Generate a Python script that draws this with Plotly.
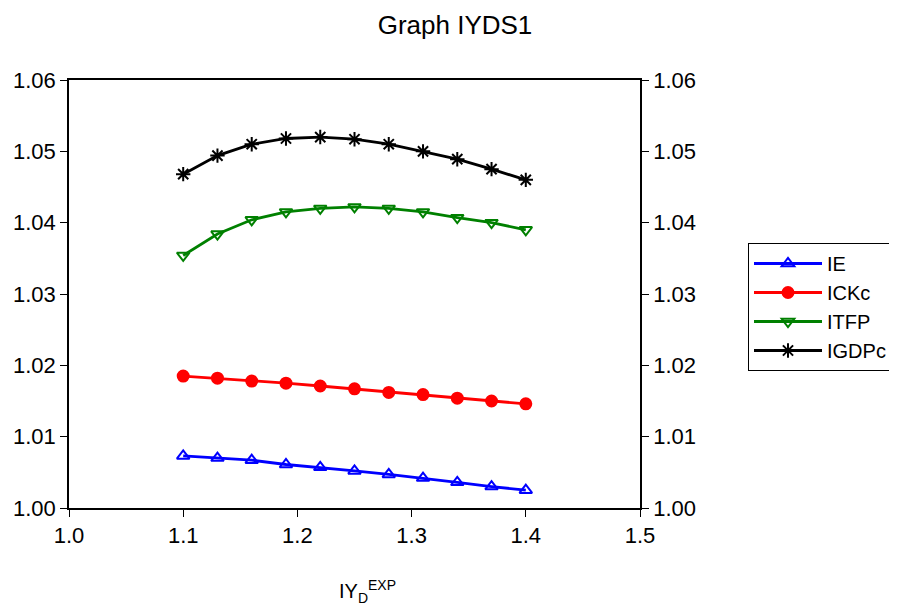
import plotly.graph_objects as go

x_vals = [1.10, 1.13, 1.16, 1.19, 1.22, 1.25, 1.28, 1.31, 1.34, 1.37, 1.40]
IE = [1.0073, 1.0070, 1.0067, 1.0061, 1.0057, 1.0052, 1.0047, 1.0042, 1.0036, 1.0030, 1.0025]
ICKc = [1.0185, 1.0182, 1.0178, 1.0175, 1.0171, 1.0167, 1.0162, 1.0159, 1.0154, 1.0150, 1.0146]
ITFP = [1.0354, 1.0384, 1.0404, 1.0415, 1.0420, 1.0422, 1.0420, 1.0415, 1.0407, 1.0400, 1.0390]
IGDPc = [1.0468, 1.0494, 1.0510, 1.0518, 1.0520, 1.0517, 1.0510, 1.0500, 1.0489, 1.0475, 1.0460]

y_ticks = [1.00, 1.01, 1.02, 1.03, 1.04, 1.05, 1.06]
y_ticklabels = ["1.00", "1.01", "1.02", "1.03", "1.04", "1.05", "1.06"]
x_ticks = [1.0, 1.1, 1.2, 1.3, 1.4, 1.5]
x_ticklabels = ["1.0", "1.1", "1.2", "1.3", "1.4", "1.5"]

FONT = "Liberation Sans, Arial, sans-serif"

# the page body has an 8px default margin; layout offsets compensate for it
W, H = 897, 597

fig = go.Figure()
series = [
    ("IE", IE, "#0000FF", "triangle-up-open", 11),
    ("ICKc", ICKc, "#FF0000", "circle", 11),
    ("ITFP", ITFP, "#008000", "triangle-down-open", 11),
    ("IGDPc", IGDPc, "#000000", "asterisk-open", 12),
]
for name, ys, color, sym, sz in series:
    fig.add_trace(go.Scatter(
        x=x_vals, y=ys, name=name, mode="lines+markers",
        line=dict(color=color, width=2.8),
        marker=dict(symbol=sym, size=sz, color=color, line=dict(color=color, width=2)),
    ))

# invisible trace to anchor right-hand axis
fig.add_trace(go.Scatter(x=x_vals, y=IGDPc, yaxis="y2", showlegend=False,
                         opacity=0, hoverinfo="skip", mode="lines"))

axis_common = dict(
    showgrid=False, zeroline=False, showline=True, linecolor="black", linewidth=1.5,
    ticks="outside", ticklen=7, tickwidth=1.2, tickcolor="black", automargin=False,
    tickfont=dict(family=FONT, size=22, color="black"),
)

fig.update_layout(
    width=W, height=H,
    margin=dict(l=61, r=265, t=72, b=97),
    paper_bgcolor="white", plot_bgcolor="white",
    title=dict(text="Graph IYDS1", x=447 / W, xanchor="center", xref="container",
               y=1 - 17 / H, yanchor="middle", yref="container", automargin=False,
               font=dict(family=FONT, size=26, color="black")),
    xaxis=dict(range=[1.0, 1.5], tickvals=x_ticks, ticktext=x_ticklabels,
               mirror=True, **axis_common),
    yaxis=dict(range=[1.0, 1.06], tickvals=y_ticks, ticktext=y_ticklabels, **axis_common),
    yaxis2=dict(range=[1.0, 1.06], tickvals=y_ticks, ticktext=y_ticklabels,
                overlaying="y", side="right", **axis_common),
    legend=dict(x=(748 - 69) / 571, y=(508 - 243) / 428, xanchor="left", yanchor="top",
                bordercolor="black", borderwidth=1, bgcolor="white",
                font=dict(family=FONT, size=20, color="black"),
                itemwidth=68, tracegroupgap=0),
    showlegend=True,
    annotations=[dict(text="IY<sub>D</sub><sup>EXP</sup>", xref="paper", yref="paper",
                      x=(367 - 69) / 571, y=-(591 - 508) / 428,
                      xanchor="center", yanchor="middle", showarrow=False,
                      font=dict(family=FONT, size=20, color="black"))],
)

fig.write_html("out.html")
